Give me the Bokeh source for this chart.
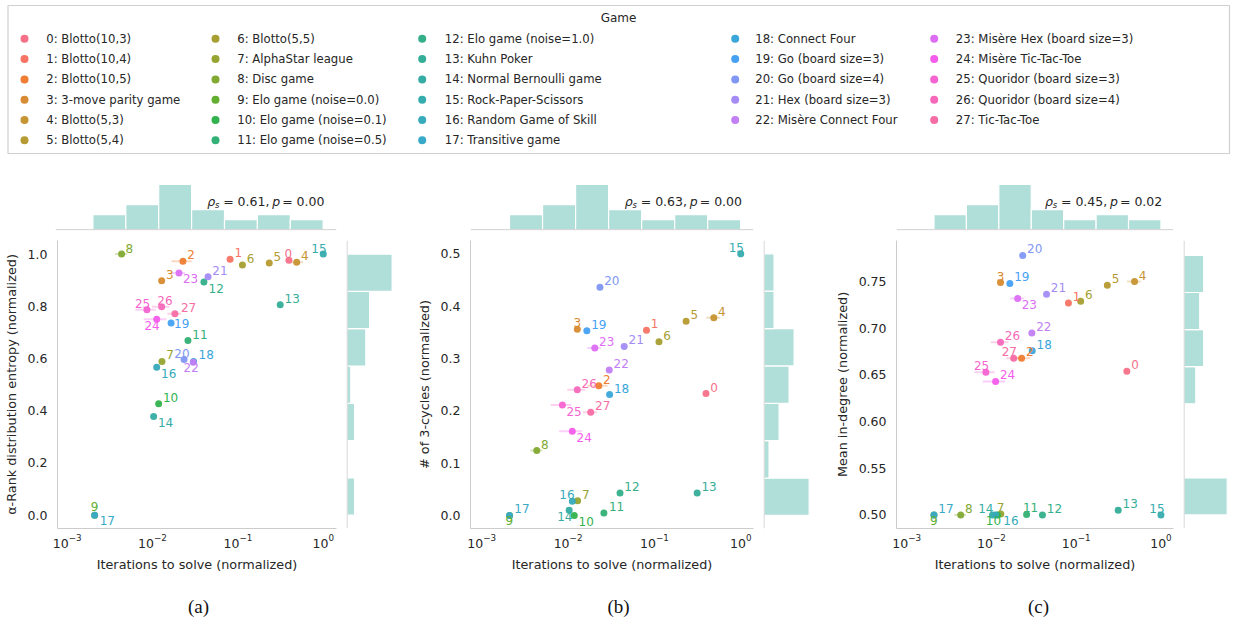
import math
import numpy as np
from bokeh.plotting import figure
from bokeh.layouts import row, column
from bokeh.models import Range1d, Span, Spacer, FixedTicker, NumeralTickFormatter, ColumnDataSource
from bokeh.embed import file_html
from bokeh.resources import INLINE
from bokeh.core.properties import value

# ---------------- data ----------------
games = ["Blotto(10,3)", "Blotto(10,4)", "Blotto(10,5)", "3-move parity game", "Blotto(5,3)",
         "Blotto(5,4)", "Blotto(5,5)", "AlphaStar league", "Disc game", "Elo game (noise=0.0)",
         "Elo game (noise=0.1)", "Elo game (noise=0.5)", "Elo game (noise=1.0)", "Kuhn Poker",
         "Normal Bernoulli game", "Rock-Paper-Scissors", "Random Game of Skill", "Transitive game",
         "Connect Four", "Go (board size=3)", "Go (board size=4)", "Hex (board size=3)",
         "Misère Connect Four", "Misère Hex (board size=3)", "Misère Tic-Tac-Toe",
         "Quoridor (board size=3)", "Quoridor (board size=4)", "Tic-Tac-Toe"]

iters = [0.396, 0.081, 0.0227, 0.0128, 0.488, 0.233, 0.113, 0.0129, 0.00434, 0.0021,
         0.0118, 0.026, 0.040, 0.313, 0.0103, 1.0, 0.0112, 0.0021, 0.0303, 0.0165,
         0.0234, 0.0447, 0.0300, 0.0204, 0.0112, 0.0086, 0.0128, 0.0183]
iters_err = [0.02, 0.004, 0.006, 0.001, 0.09, 0.015, 0.005, 0.0008, 0.0007, 0.0,
             0.0005, 0.001, 0.001, 0.01, 0.0005, 0.0, 0.0005, 0.0, 0.001, 0.001,
             0.001, 0.002, 0.001, 0.0037, 0.0033, 0.0023, 0.003, 0.0034]

entropy = [0.976, 0.980, 0.973, 0.898, 0.969, 0.966, 0.958, 0.589, 1.0, 0.0,
           0.427, 0.669, 0.893, 0.806, 0.378, 1.0, 0.567, 0.0, 0.589, 0.736,
           0.596, 0.913, 0.586, 0.928, 0.750, 0.787, 0.798, 0.771]
cycles = [0.233, 0.354, 0.248, 0.356, 0.378, 0.371, 0.332, 0.028, 0.124, 0.0,
          0.0, 0.0045, 0.043, 0.043, 0.010, 0.5, 0.027, 0.0, 0.231, 0.353,
          0.436, 0.323, 0.278, 0.320, 0.161, 0.211, 0.240, 0.197]
indegree = [0.654, 0.727, 0.668, 0.749, 0.750, 0.746, 0.729, 0.501, 0.5, 0.5,
            0.5, 0.5005, 0.5, 0.505, 0.5, 0.5, 0.5, 0.5, 0.676, 0.748,
            0.778, 0.7365, 0.695, 0.732, 0.643, 0.653, 0.685, 0.668]

y_labels = ["α-Rank distribution entropy (normalized)", "# of 3-cycles (normalized)",
            "Mean in-degree (normalized)"]
x_label = "Iterations to solve (normalized)"
rho = ["0.61", "0.63", "0.45"]
pval = ["0.00", "0.00", "0.02"]
captions = ["(a)", "(b)", "(c)"]
x_ticks = [1e-3, 1e-2, 1e-1, 1.0]
y_ticks = [[0.0, 0.2, 0.4, 0.6, 0.8, 1.0],
           [0.0, 0.1, 0.2, 0.3, 0.4, 0.5],
           [0.50, 0.55, 0.60, 0.65, 0.70, 0.75]]

# ---------------- colours (seaborn husl palette, 28 colours) ----------------
_M = [[3.2406, -1.5372, -0.4986], [-0.9689, 1.8758, 0.0415], [0.0557, -0.2040, 1.0570]]


def _max_chroma(L, H):
    hrad = math.radians(H)
    sinH, cosH = math.sin(hrad), math.cos(hrad)
    sub1 = (L + 16) ** 3 / 1560896.0
    sub2 = sub1 if sub1 > 0.008856 else L / 903.3
    res = float("inf")
    for m1, m2, m3 in _M:
        top = (0.99915 * m1 + 1.05122 * m2 + 1.14460 * m3) * sub2
        rb = 0.86330 * m3 - 0.17266 * m2
        lb = 0.12949 * m3 - 0.38848 * m1
        bottom = (rb * sinH + lb * cosH) * sub2
        for t in (0.0, 1.0):
            C = L * (top - 1.05122 * t) / (bottom + 0.17266 * sinH * t)
            if 0.0 < C < res:
                res = C
    return res


def _husl_to_hex(H, S, L):
    C = _max_chroma(L, H) / 100.0 * S
    U, V = math.cos(math.radians(H)) * C, math.sin(math.radians(H)) * C
    t = (L + 16.0) / 116.0
    varY = t ** 3 if t ** 3 > 0.008856 else (116.0 * t - 16.0) / 903.3
    varU = U / (13.0 * L) + 0.19784
    varV = V / (13.0 * L) + 0.46834
    Y = varY
    X = 0.0 - (9.0 * Y * varU) / ((varU - 4.0) * varV - varU * varV)
    Z = (9.0 * Y - (15.0 * varV * Y) - (varV * X)) / (3.0 * varV)
    out = []
    for r in _M:
        c = r[0] * X + r[1] * Y + r[2] * Z
        c = 12.92 * c if c <= 0.0031308 else 1.055 * c ** (1 / 2.4) - 0.055
        out.append(int(round(min(max(c, 0.0), 1.0) * 255)))
    return "#%02x%02x%02x" % tuple(out)


_hues = ((np.linspace(0, 1, len(games) + 1)[:-1] + 0.01) % 1) * 359
colors = [_husl_to_hex(h, 0.9 * 99, 0.65 * 99) for h in _hues]

# ---------------- style ----------------
FONT = "DejaVu Sans"
TXT = "#262626"
SPINE = "#cccccc"
BAR = "#b0ded8"

# label offsets (px): dx to text left edge, dy to text centre (down positive)
DEFAULT_OFF = (4.3, -6.5)
offsets = [
    {0: (-4.3, -7), 8: (4, -5.2), 9: (-4, -8.3), 12: (4.7, 6), 14: (4.3, 5.8), 15: (-12, -6),
     16: (4.3, 6), 17: (5, 5), 18: (5, -6.5), 19: (3, 0), 20: (-9.7, -6.5), 22: (-9.7, 5.5),
     23: (4, 6), 24: (-12.3, 6), 25: (-12, -6.3), 26: (-4.3, -6.5), 27: (6, -6.3)},
    {3: (-3.7, -7), 9: (-4, 5.5), 10: (4.3, 5.8), 11: (5, -6.5), 14: (-12, 6), 15: (-12, -6),
     16: (-13, -6.3), 17: (4.7, -7), 24: (4.3, 6), 25: (4, 6)},
    {3: (-3.7, -6.5), 7: (-4, -6.5), 9: (-4, 5.8), 10: (-11.7, 5.8), 11: (-3.7, -6.5), 14: (-14.3, -6.5),
     15: (-11.7, -6.5), 16: (7.7, 5.8), 23: (4, 6), 25: (-12, -6.5), 27: (-12, -6.5)},
]

panel_cfg = [
    dict(y=entropy, yr=(-0.051, 1.052), fmt="0.0", xr=(-3.113, 0.155), lb=55, fw=281, rb=5, hfw=47, hrb=7),
    dict(y=cycles, yr=(-0.025, 0.5255), fmt="0.0", xr=(-3.13, 0.148), lb=70, fw=283, rb=5, hfw=47, hrb=10),
    dict(y=indegree, yr=(0.4855, 0.794), fmt="0.00", xr=(-3.12, 0.148), lb=76, fw=277, rb=5, hfw=45, hrb=5),
]

TOP_H = 62
SC_TOP = 5
SC_FH = 288
SC_BOT = 50
SC_H = SC_TOP + SC_FH + SC_BOT


def style_axis(ax):
    ax.axis_line_color = SPINE
    ax.axis_line_width = 1
    ax.major_tick_line_color = None
    ax.minor_tick_line_color = None
    ax.major_tick_out = 0
    ax.major_tick_in = 0
    ax.minor_tick_out = 0
    ax.minor_tick_in = 0
    ax.major_label_text_font = FONT
    ax.major_label_text_font_size = "12.5px"
    ax.major_label_text_color = TXT
    ax.axis_label_text_font = FONT
    ax.axis_label_text_font_size = "12.8px"
    ax.axis_label_text_font_style = "normal"
    ax.axis_label_text_color = TXT


log_it = np.log10(np.array(iters))
x_counts, x_edges = np.histogram(log_it, bins=7)

panels = []
for k, cfg in enumerate(panel_cfg):
    lb, fw, rb = cfg["lb"], cfg["fw"], cfg["rb"]
    sc_w = lb + fw + rb
    xr = Range1d(10 ** cfg["xr"][0], 10 ** cfg["xr"][1])
    yr = Range1d(*cfg["yr"])

    sc = figure(width=sc_w, height=SC_H, x_axis_type="log", x_range=xr, y_range=yr,
                output_backend="svg", toolbar_location=None,
                min_border_left=lb, min_border_right=rb, min_border_top=SC_TOP, min_border_bottom=SC_BOT,
                background_fill_color="white", border_fill_color="white")
    sc.grid.visible = False
    sc.outline_line_color = None
    style_axis(sc.xaxis[0])
    style_axis(sc.yaxis[0])
    sc.xaxis.axis_label = x_label
    sc.yaxis.axis_label = y_labels[k]
    sc.xaxis.ticker = FixedTicker(ticks=x_ticks, minor_ticks=[])
    sc.yaxis.ticker = FixedTicker(ticks=y_ticks[k], minor_ticks=[])
    sc.yaxis.formatter = NumeralTickFormatter(format=cfg["fmt"])
    sc.xaxis.major_label_standoff = 5
    sc.xaxis.axis_label_standoff = 6
    sc.yaxis.major_label_standoff = 10
    sc.yaxis.axis_label_standoff = 6

    off = [offsets[k].get(i, DEFAULT_OFF) for i in range(len(games))]
    src = ColumnDataSource(dict(
        x=iters, y=cfg["y"],
        lo=[max(a - e, 1e-6) for a, e in zip(iters, iters_err)],
        hi=[a + e for a, e in zip(iters, iters_err)],
        color=colors, label=[str(i) for i in range(len(games))],
        dx=[o[0] for o in off], dy=[o[1] for o in off]))
    sc.segment(x0="lo", y0="y", x1="hi", y1="y", line_color="color", line_alpha=0.3,
               line_width=2, source=src)
    sc.scatter(x="x", y="y", size=7, fill_color="color", fill_alpha=0.95, line_color=None, source=src)
    sc.text(x="x", y="y", text="label", text_color="color", x_offset="dx", y_offset="dy",
            text_font=value(FONT), text_font_size="12px", text_baseline="middle",
            text_align="left", source=src)

    # top marginal histogram
    top_max = x_counts.max()
    th = figure(width=sc_w, height=TOP_H, x_axis_type="log", x_range=xr,
                y_range=Range1d(-0.15, top_max * 1.066), x_axis_location=None, y_axis_location=None,
                output_backend="svg", toolbar_location=None,
                min_border_left=lb, min_border_right=rb, min_border_top=8, min_border_bottom=5,
                background_fill_color="white", border_fill_color="white")
    th.grid.visible = False
    th.outline_line_color = None
    th.quad(left=10 ** x_edges[:-1], right=10 ** x_edges[1:], bottom=0, top=x_counts,
            fill_color=BAR, line_color="white", line_width=1.2)
    th.add_layout(Span(location=0, dimension="width", line_color=SPINE, line_width=1))
    # correlation annotation, mathtext-like pieces
    ty = top_max * 0.62
    pieces = [("ρ", "italic", "12.5px", -116, 0), ("s", "italic", "8.5px", -108.2, 3),
              ("= " + rho[k] + ",", "normal", "12.5px", -100, 0),
              ("p", "italic", "12.5px", -51, 0), ("= " + pval[k], "normal", "12.5px", -41, 0)]
    for txt, sty, fs, xo, yo in pieces:
        th.text(x=[1.0], y=[ty], text=[txt], x_offset=xo, y_offset=yo, text_font=value(FONT),
                text_font_style=sty, text_font_size=fs, text_color=TXT, text_baseline="middle",
                text_align="left")

    # right marginal histogram
    y_counts, y_edges = np.histogram(np.array(cfg["y"]), bins=7)
    hfw, hrb = cfg["hfw"], cfg["hrb"]
    rh_w = 5 + hfw + hrb
    rmax = y_counts.max()
    rh = figure(width=rh_w, height=SC_H, x_range=Range1d(-rmax * 0.012, rmax * 1.03), y_range=yr,
                x_axis_location=None, y_axis_location=None, output_backend="svg", toolbar_location=None,
                min_border_left=5, min_border_right=hrb, min_border_top=SC_TOP, min_border_bottom=SC_BOT,
                background_fill_color="white", border_fill_color="white")
    rh.grid.visible = False
    rh.outline_line_color = None
    rh.quad(left=0, right=y_counts, bottom=y_edges[:-1], top=y_edges[1:],
            fill_color=BAR, line_color="white", line_width=1.2)
    rh.add_layout(Span(location=0, dimension="height", line_color=SPINE, line_width=1))

    panels.append(column(row(th, Spacer(width=rh_w, height=TOP_H)), row(sc, rh)))

TOTAL_W = 1232

# ---------------- legend ----------------
LEG_H = 173
leg = figure(width=TOTAL_W, height=LEG_H, x_range=Range1d(0, TOTAL_W), y_range=Range1d(LEG_H, 0),
             x_axis_location=None, y_axis_location=None, output_backend="svg", toolbar_location=None,
             min_border=0, background_fill_color="white", border_fill_color="white")
leg.grid.visible = False
leg.outline_line_color = None
leg.quad(left=[7.5], right=[1229], top=[5], bottom=[153], fill_color="white",
         line_color="#d0d0d0", line_width=1.2)
leg.text(x=[618], y=[17.5], text=["Game"], text_font=value(FONT), text_font_size="12px",
         text_color=TXT, text_align="center", text_baseline="middle")
col_of = [0] * 6 + [1] * 6 + [2] * 6 + [3] * 5 + [4] * 5
row_of = list(range(6)) * 3 + list(range(5)) * 2
mark_x = [24, 215, 421.7, 734.7, 933.7]
text_x = [45.7, 236.7, 444.3, 754.7, 955.3]
lsrc = ColumnDataSource(dict(
    mx=[mark_x[c] for c in col_of], tx=[text_x[c] for c in col_of],
    y=[38.3 + 20.3 * r for r in row_of], color=colors,
    label=["%d: %s" % (i, g) for i, g in enumerate(games)]))
leg.scatter(x="mx", y="y", size=8, fill_color="color", line_color=None, source=lsrc)
leg.text(x="tx", y="y", text="label", text_font=value(FONT), text_font_size="11.7px",
         text_color=TXT, text_align="left", text_baseline="middle", source=lsrc)

# ---------------- captions ----------------
CAP_H = 42
cap = figure(width=TOTAL_W, height=CAP_H, x_range=Range1d(0, TOTAL_W), y_range=Range1d(CAP_H, 0),
             x_axis_location=None, y_axis_location=None, output_backend="svg", toolbar_location=None,
             min_border=0, background_fill_color="white", border_fill_color="white")
cap.grid.visible = False
cap.outline_line_color = None
cap.text(x=[198, 618, 1038], y=[28, 28, 28], text=captions, text_font=value("Liberation Serif"),
         text_font_size="19px", text_color="#111111", text_align="center", text_baseline="middle")

layout = column(leg, row(*panels), cap)
open("out.html", "w").write(file_html(layout, INLINE))
